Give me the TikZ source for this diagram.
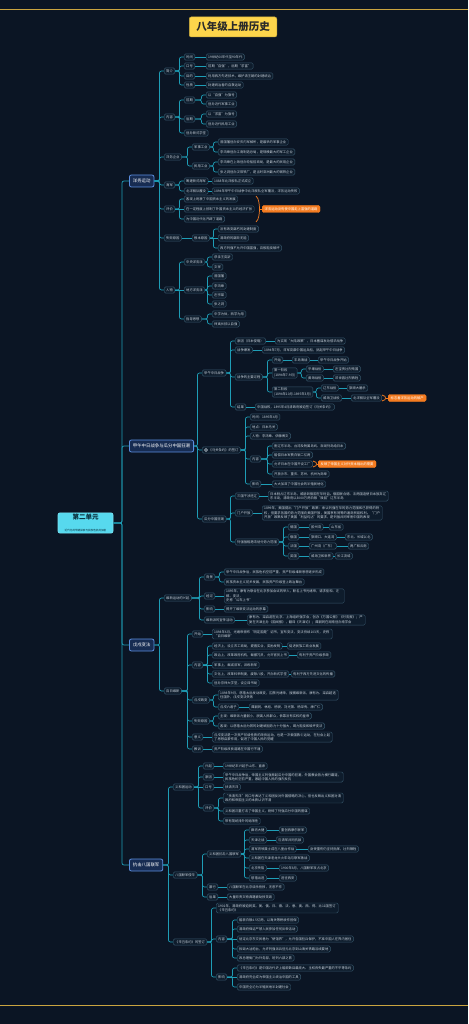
\documentclass[tikz,border=0pt]{standalone}
\usepackage{fontspec}
\setmainfont{Noto Sans CJK SC}
\XeTeXlinebreaklocale "zh"
\XeTeXlinebreakskip=0pt plus 0.5pt
\definecolor{bgc}{HTML}{0B1524}
\definecolor{connc}{HTML}{1E9DB6}
\definecolor{leafb}{HTML}{36566A}
\definecolor{leaff}{HTML}{0E1C2C}
\definecolor{leaft}{HTML}{C9D3DD}
\definecolor{lonef}{HTML}{172C52}
\definecolor{loneb}{HTML}{5C8FE0}
\definecolor{rootf}{HTML}{57D9EE}
\definecolor{roott}{HTML}{0A2E3C}
\definecolor{orc}{HTML}{F47B20}
\definecolor{goldc}{HTML}{C9A440}
\definecolor{titlef}{HTML}{FDD54B}
\definecolor{titlet}{HTML}{2A2A2A}
\newcommand\leaffont{\fontsize{3.3pt}{4.3pt}\selectfont}
\tikzset{
  leaf/.style={draw=leafb, fill=leaff, text=leaft, rounded corners=1.5pt, line width=0.45pt,
    font=\leaffont, inner xsep=2pt, inner ysep=1.3pt, minimum height=6.4pt, anchor=west},
  multi/.style={leaf, text width=#1, align=left},
  lvone/.style={draw=loneb, fill=lonef, text=white, rounded corners=2pt, line width=0.8pt,
    font=\fontsize{4.4pt}{5pt}\selectfont, inner xsep=3.5pt, inner ysep=2pt, minimum height=12pt, anchor=west},
  rootn/.style={draw=rootf!80!white, fill=rootf, text=roott, rounded corners=2pt, line width=0.6pt,
    minimum width=55pt, minimum height=20pt, align=center, inner sep=1pt},
  ttl/.style={draw=titlef!80!black, fill=titlef, text=titlet, rounded corners=2pt, line width=0.5pt,
    font=\fontsize{10.5pt}{12pt}\selectfont\bfseries, minimum height=20pt, inner xsep=7pt},
  orn/.style={draw=orc, fill=orc, text=white, rounded corners=1.5pt, font=\leaffont,
    inner xsep=2.5pt, inner ysep=1.5pt, minimum height=7pt, anchor=west},
  conn/.style={draw=connc, line width=0.7pt, rounded corners=2pt},
  obrace/.style={draw=orc, line width=0.7pt}
}
\newcommand\cnx[3][4.5]{\draw[conn] (#3.west) -- ++(-#1pt,0) |- (#2.east);}
\newcommand\lnk[2]{\draw[conn] (#1.east) -- (#2.west);}
\newcommand\orbr[5]{%
  \draw[obrace] (#1,#2) .. controls ({#1+3},{#2+2}) and ({#1+3.5},{#3-3}) .. ({#1+3.5},#3)
     .. controls ({#1+3.5},{#3+3}) and ({#1+3},{#4-2}) .. (#1,#4);
  \coordinate (#5br) at ({#1+3.5},#3);
  \draw[obrace] (#5br) -- (#5.west);}
\begin{document}
\begin{tikzpicture}[x=1pt,y=-1pt]
\useasboundingbox (0,0) rectangle (468,1024);
\fill[bgc] (0,0) rectangle (468,1024);
\draw[goldc, line width=0.8pt] (0,9) -- (468,9);
\draw[goldc, line width=0.8pt] (0,1005) -- (468,1005);
\node[ttl] (T) at (233,27) {八年级上册历史};
\node[rootn] (R) at (85.5,523) {{\fontsize{6.5pt}{8pt}\selectfont\bfseries 第二单元}\\[0.5pt]{\fontsize{2.6pt}{3pt}\selectfont 近代化的早期探索与民族危机的加剧}};
% level 1
\node[lvone] (A) at (129,181) {洋务运动};
\node[lvone] (B) at (129,446) {甲午中日战争与瓜分中国狂潮};
\node[lvone] (C) at (129,645) {戊戌变法};
\node[lvone] (D) at (129,865) {抗击八国联军};
\cnx[7]{R}{A}\cnx[7]{R}{B}\cnx[7]{R}{C}\cnx[7]{R}{D}
% ===== A
\node[leaf] (A1) at (164,71) {简介};
\node[leaf] (A2) at (164,117) {内容};
\node[leaf] (A3) at (164,157) {洋务企业};
\node[leaf] (A4) at (164,185) {海军};
\node[leaf] (A5) at (164,209) {评价};
\node[leaf] (A6) at (164,238) {失败原因};
\node[leaf] (A7) at (164,290) {人物};
\cnx{A}{A1}\cnx{A}{A2}\cnx{A}{A3}\cnx{A}{A4}\cnx{A}{A5}\cnx{A}{A6}\cnx{A}{A7}
\node[leaf] (A1a) at (184,57) {时间};
\node[leaf] (A1at) at (206,57) {19世纪60年代至90年代};
\node[leaf] (A1b) at (184,66) {口号};
\node[leaf] (A1bt) at (206,66) {前期“自强”，后期“求富”};
\node[leaf] (A1c) at (184,76) {目的};
\node[leaf] (A1ct) at (206,76) {利用西方先进技术，维护清王朝的封建统治};
\node[leaf] (A1d) at (184,85) {性质};
\node[leaf] (A1dt) at (206,85) {封建统治者的自救运动};
\cnx{A1}{A1a}\cnx{A1}{A1b}\cnx{A1}{A1c}\cnx{A1}{A1d}
\lnk{A1a}{A1at}\lnk{A1b}{A1bt}\lnk{A1c}{A1ct}\lnk{A1d}{A1dt}
\node[leaf] (A2a) at (184,100) {前期};
\node[leaf] (A2a1) at (206,95) {以“自强”为旗号};
\node[leaf] (A2a2) at (206,104) {创办近代军事工业};
\node[leaf] (A2b) at (184,119) {后期};
\node[leaf] (A2b1) at (206,114) {以“求富”为旗号};
\node[leaf] (A2b2) at (206,124) {创办近代民用工业};
\node[leaf] (A2c) at (184,133) {创办新式学堂};
\cnx{A2}{A2a}\cnx{A2}{A2b}\cnx{A2}{A2c}
\cnx{A2a}{A2a1}\cnx{A2a}{A2a2}\cnx{A2b}{A2b1}\cnx{A2b}{A2b2}
\node[leaf] (A3a) at (192,147) {军事工业};
\node[leaf] (A3a1) at (218,142) {曾国藩创办安庆内军械所，是最早的军事企业};
\node[leaf] (A3a2) at (218,152) {李鸿章创办江南制造总局，是规模最大的军工企业};
\node[leaf] (A3b) at (192,166) {民用工业};
\node[leaf] (A3b1) at (218,162) {李鸿章在上海创办轮船招商局，是最大的民用企业};
\node[leaf] (A3b2) at (218,172) {张之洞创办汉阳铁厂，是当时亚洲最大的钢铁企业};
\cnx{A3}{A3a}\cnx{A3}{A3b}
\cnx{A3a}{A3a1}\cnx{A3a}{A3a2}\cnx{A3b}{A3b1}\cnx{A3b}{A3b2}
\node[leaf] (A4a) at (184,181) {筹建新式海军};
\node[leaf] (A4a1) at (212,181) {1888年北洋舰队正式成立};
\node[leaf] (A4b) at (184,191) {北洋舰队覆没};
\node[leaf] (A4b1) at (212,191) {1894年甲午中日战争中北洋舰队全军覆没，洋务运动失败};
\cnx{A4}{A4a}\cnx{A4}{A4b}\lnk{A4a}{A4a1}\lnk{A4b}{A4b1}
\node[leaf] (A5a) at (184,199) {客观上刺激了中国资本主义的发展};
\node[leaf] (A5b) at (184,209) {在一定程度上抵制了外国资本主义的经济扩张};
\node[leaf] (A5c) at (184,219) {为中国近代化开辟了道路};
\cnx{A5}{A5a}\lnk{A5}{A5b}\cnx{A5}{A5c}
\node[orn] (A5o) at (262,209) {洋务运动没有使中国走上富强的道路};
\orbr{256}{196}{209}{222}{A5o}
\node[leaf] (A6a) at (192,238) {根本原因};
\node[leaf] (A6a1) at (218,229) {没有改变腐朽的封建制度};
\node[leaf] (A6a2) at (218,238) {清政府的腐败无能};
\node[leaf] (A6a3) at (218,248) {西方列强不允许中国富强，百般阻挠破坏};
\lnk{A6}{A6a}\cnx{A6a}{A6a1}\lnk{A6a}{A6a2}\cnx{A6a}{A6a3}
\node[leaf] (A7a) at (184,262) {中央洋务派};
\node[leaf] (A7a1) at (212,257) {恭亲王奕訢};
\node[leaf] (A7a2) at (212,267) {文祥};
\node[leaf] (A7b) at (184,290) {地方洋务派};
\node[leaf] (A7b1) at (212,276) {曾国藩};
\node[leaf] (A7b2) at (212,286) {李鸿章};
\node[leaf] (A7b3) at (212,295) {左宗棠};
\node[leaf] (A7b4) at (212,304) {张之洞};
\node[leaf] (A7c) at (184,319) {指导思想};
\node[leaf] (A7c1) at (212,314) {中学为体，西学为用};
\node[leaf] (A7c2) at (212,324) {师夷长技以自强};
\cnx{A7}{A7a}\lnk{A7}{A7b}\cnx{A7}{A7c}
\cnx{A7a}{A7a1}\cnx{A7a}{A7a2}
\cnx{A7b}{A7b1}\cnx{A7b}{A7b2}\cnx{A7b}{A7b3}\cnx{A7b}{A7b4}
\cnx{A7c}{A7c1}\cnx{A7c}{A7c2}
% ===== B
\node[leaf] (B1) at (202,373) {甲午中日战争};
\node[leaf] (B2) at (202,450) {\hspace*{4.5pt}《马关条约》的签订};
\fill[leaft] ([xshift=4pt]B2.west) circle (1.8pt);
\fill[leaff] ([xshift=4pt]B2.west) circle (0.9pt);
\node[leaf] (B3) at (202,519) {瓜分中国狂潮};
\cnx{B}{B1}\cnx{B}{B2}\cnx{B}{B3}
\node[leaf] (B1a) at (235,341) {原因（日本侵略）};
\node[leaf] (B1a1) at (275,341) {为实现“大陆政策”，日本蓄谋发动侵华战争};
\node[leaf] (B1b) at (235,350) {战争爆发};
\node[leaf] (B1b1) at (262,350) {1894年7月，日军突袭中国运兵船，挑起甲午中日战争};
\node[leaf] (B1c) at (235,377) {战争的主要过程};
\node[leaf] (B1d) at (235,407) {结果};
\node[leaf] (B1d1) at (255,407) {中国战败，1895年4月清政府被迫签订《马关条约》};
\cnx{B1}{B1a}\cnx{B1}{B1b}\cnx{B1}{B1c}\cnx{B1}{B1d}
\lnk{B1a}{B1a1}\lnk{B1b}{B1b1}\lnk{B1d}{B1d1}
\node[leaf] (B1c1) at (272,360) {开始};
\node[leaf] (B1c1a) at (292,360) {丰岛海战};
\node[leaf] (B1c1b) at (318,360) {甲午中日战争开始};
\node[leaf, align=left] (B1c2) at (272,373) {第一阶段\\(1894年7-9月)};
\node[leaf] (B1c2a) at (306,369) {平壤战役};
\node[leaf] (B1c2a1) at (333,369) {左宝贵壮烈殉国};
\node[leaf] (B1c2b) at (306,378) {黄海战役};
\node[leaf] (B1c2b1) at (333,378) {邓世昌壮烈牺牲};
\node[leaf, align=left] (B1c3) at (272,392) {第二阶段\\(1894年10月-1895年3月)};
\node[leaf] (B1c3a) at (321,388) {辽东战役};
\node[leaf] (B1c3a1) at (347,388) {旅顺大屠杀};
\node[leaf] (B1c3b) at (321,398) {威海卫战役};
\node[leaf] (B1c3b1) at (351,398) {北洋舰队全军覆没};
\node[orn] (B1o) at (388,398) {标志着洋务运动的破产};
\orbr{382}{395}{398}{401}{B1o}
\cnx{B1c}{B1c1}\cnx{B1c}{B1c2}\cnx{B1c}{B1c3}
\lnk{B1c1}{B1c1a}\lnk{B1c1a}{B1c1b}
\cnx{B1c2}{B1c2a}\cnx{B1c2}{B1c2b}\lnk{B1c2a}{B1c2a1}\lnk{B1c2b}{B1c2b1}
\cnx{B1c3}{B1c3a}\cnx{B1c3}{B1c3b}\lnk{B1c3a}{B1c3a1}\lnk{B1c3b}{B1c3b1}
\node[leaf] (B2a) at (250,417) {时间：1895年4月};
\node[leaf] (B2b) at (250,427) {地点：日本马关};
\node[leaf] (B2c) at (250,436) {人物：李鸿章、伊藤博文};
\node[leaf] (B2d) at (250,459) {内容};
\node[leaf] (B2e) at (250,484) {影响};
\node[leaf] (B2e1) at (272,484) {大大加深了中国社会的半殖民地化};
\cnx{B2}{B2a}\cnx{B2}{B2b}\cnx{B2}{B2c}\cnx{B2}{B2d}\cnx{B2}{B2e}\lnk{B2e}{B2e1}
\node[leaf] (B2d1) at (272,446) {割辽东半岛、台湾及附属岛屿、澎湖列岛给日本};
\node[leaf] (B2d2) at (272,455) {赔偿日本军费白银二亿两};
\node[leaf] (B2d3) at (272,464) {允许日本在中国开设工厂};
\node[leaf] (B2d4) at (272,474) {开放沙市、重庆、苏州、杭州为商埠};
\node[orn] (B2o) at (318,464) {反映了帝国主义对外资本输出的需要};
\orbr{313}{461}{464}{467}{B2o}
\cnx{B2d}{B2d1}\cnx{B2d}{B2d2}\cnx{B2d}{B2d3}\cnx{B2d}{B2d4}
\node[leaf] (B3a) at (235,496) {三国干涉还辽};
\node[multi=116pt] (B3a1) at (268,496) {日本割占辽东半岛，威胁到俄国在华利益。俄国联合德、法两国迫使日本放弃辽东半岛，清政府以3000万两白银“赎回”辽东半岛};
\node[leaf] (B3b) at (235,513) {门户开放};
\node[multi=116pt] (B3b1) at (262,513) {1899年，美国提出“门户开放”政策：承认列强在华的势力范围和已获得的特权，但要求各国的势力范围向美国开放，美国享有同等的通商贸易权利。“门户开放”政策反映了美国“利益均沾”的要求，是列强共同宰割中国的表现};
\node[leaf] (B3c) at (235,542) {列强强租港湾划分势力范围};
\cnx{B3}{B3a}\cnx{B3}{B3b}\cnx{B3}{B3c}\lnk{B3a}{B3a1}\lnk{B3b}{B3b1}
\node[leaf] (B3c1) at (288,527) {德国};
\node[leaf] (B3c1a) at (309,527) {胶州湾};
\node[leaf] (B3c1b) at (329,527) {山东省};
\node[leaf] (B3c2) at (288,537) {俄国};
\node[leaf] (B3c2a) at (309,537) {旅顺口、大连湾};
\node[leaf] (B3c2b) at (345,537) {东北、长城以北};
\node[leaf] (B3c3) at (288,546) {法国};
\node[leaf] (B3c3a) at (309,546) {广州湾（广东）};
\node[leaf] (B3c3b) at (348,546) {两广和云南};
\node[leaf] (B3c4) at (288,556) {英国};
\node[leaf] (B3c4a) at (309,556) {威海卫和新界};
\node[leaf] (B3c4b) at (335,556) {长江流域};
\cnx{B3c}{B3c1}\cnx{B3c}{B3c2}\cnx{B3c}{B3c3}\cnx{B3c}{B3c4}
\lnk{B3c1}{B3c1a}\lnk{B3c1a}{B3c1b}\lnk{B3c2}{B3c2a}\lnk{B3c2a}{B3c2b}
\lnk{B3c3}{B3c3a}\lnk{B3c3a}{B3c3b}\lnk{B3c4}{B3c4a}\lnk{B3c4a}{B3c4b}
% ===== C
\node[leaf] (C1) at (164,598) {维新运动的兴起};
\node[leaf] (C2) at (164,691) {百日维新};
\cnx{C}{C1}\cnx{C}{C2}
\node[leaf] (C1a) at (204,577) {背景};
\node[leaf] (C1a1) at (224,572) {甲午中日战争后，民族危机空前严重，资产阶级维新思想逐步形成};
\node[leaf] (C1a2) at (224,582) {民族资本主义初步发展，民族资产阶级登上政治舞台};
\node[leaf] (C1b) at (204,596) {经过};
\node[multi=116pt] (C1b1) at (224,596) {1895年，康有为联合在北京参加会试的举人，联名上书光绪帝，请求拒和、迁\\都、变法，\\史称“公车上书”};
\node[leaf] (C1c) at (204,609) {影响};
\node[leaf] (C1c1) at (224,609) {揭开了维新变法运动的序幕};
\node[leaf] (C1d) at (204,620) {维新派的宣传活动};
\node[multi=114pt] (C1d1) at (247,620) {康有为、梁启超在北京、上海组织强学会，创办《万国公报》《时务报》；严复在天津主办《国闻报》，翻译《天演论》；谭嗣同在湖南创办南学会};
\cnx{C1}{C1a}\cnx{C1}{C1b}\cnx{C1}{C1c}\cnx{C1}{C1d}
\cnx{C1a}{C1a1}\cnx{C1a}{C1a2}\lnk{C1b}{C1b1}\lnk{C1c}{C1c1}\lnk{C1d}{C1d1}
\node[leaf] (C2a) at (192,634) {开始};
\node[multi=116pt] (C2a1) at (212,634) {1898年6月，光绪帝颁布“明定国是”诏书，宣布变法，变法持续103天，史称“百日维新”};
\node[leaf] (C2b) at (192,665) {内容};
\node[leaf] (C2c) at (192,700) {戊戌政变};
\node[leaf] (C2d) at (192,721) {失败原因};
\node[leaf] (C2e) at (192,737) {意义};
\node[leaf] (C2f) at (192,749) {教训};
\cnx{C2}{C2a}\cnx{C2}{C2b}\cnx{C2}{C2c}\cnx{C2}{C2d}\cnx{C2}{C2e}\cnx{C2}{C2f}
\lnk{C2a}{C2a1}
\node[leaf] (C2b1) at (212,646) {经济上，设立农工商局，提倡实业，奖励发明};
\node[leaf] (C2b1a) at (287,646) {促进民族工商业发展};
\node[leaf] (C2b2) at (212,655) {政治上，改革政府机构，裁撤冗员，允许官员上书};
\node[leaf] (C2b2a) at (297,655) {有利于资产阶级参政};
\node[leaf] (C2b3) at (212,665) {军事上，裁减旧军，训练新军};
\node[leaf] (C2b4) at (212,674) {文化上，改革科举制度，废除八股，开办新式学堂};
\node[leaf] (C2b4a) at (291,674) {有利于西方先进文化的传播};
\node[leaf] (C2b5) at (212,683) {创办京师大学堂，设立译书局};
\cnx{C2b}{C2b1}\cnx{C2b}{C2b2}\lnk{C2b}{C2b3}\cnx{C2b}{C2b4}\cnx{C2b}{C2b5}
\lnk{C2b1}{C2b1a}\lnk{C2b2}{C2b2a}\lnk{C2b4}{C2b4a}
\node[multi=116pt] (C2c1) at (218,695) {1898年9月，慈禧太后发动政变，囚禁光绪帝，搜捕维新派，康有为、梁启超逃往国外，戊戌变法失败};
\node[leaf] (C2c2) at (218,707) {戊戌六君子};
\node[leaf] (C2c2a) at (249,707) {谭嗣同、林旭、杨锐、刘光第、杨深秀、康广仁};
\cnx{C2c}{C2c1}\cnx{C2c}{C2c2}\lnk{C2c2}{C2c2a}
\node[leaf] (C2d1) at (218,716) {主观：维新派力量弱小，脱离人民群众，依靠没有实权的皇帝};
\node[leaf] (C2d2) at (218,726) {客观：以慈禧太后为首的封建顽固势力十分强大，竭力阻挠和破坏变法};
\cnx{C2d}{C2d1}\cnx{C2d}{C2d2}
\node[multi=116pt] (C2e1) at (212,737) {戊戌变法是一次资产阶级性质的改良运动，也是一次爱国救亡运动，在社会上起了思想启蒙作用，促进了中国人民的觉醒};
\node[leaf] (C2f1) at (212,749) {资产阶级改良道路在中国行不通};
\lnk{C2e}{C2e1}\lnk{C2f}{C2f1}
% ===== D
\node[leaf] (D1) at (173,787) {义和团运动};
\node[leaf] (D2) at (173,875) {八国联军侵华};
\node[leaf] (D3) at (173,942) {《辛丑条约》的签订};
\cnx{D}{D1}\cnx{D}{D2}\cnx{D}{D3}
\node[leaf] (D1a) at (203,766) {兴起};
\node[leaf] (D1a1) at (223,766) {19世纪末兴起于山东、直隶};
\node[leaf] (D1b) at (203,777) {原因};
\node[multi=116pt] (D1b1) at (223,777) {甲午中日战争后，帝国主义列强掀起瓜分中国的狂潮，外国教会势力横行霸道，民族危机空前严重，激起中国人民的强烈反抗};
\node[leaf] (D1c) at (203,787) {口号};
\node[leaf] (D1c1) at (223,787) {扶清灭洋};
\node[leaf] (D1d) at (203,808) {评价};
\cnx{D1}{D1a}\cnx{D1}{D1b}\lnk{D1}{D1c}\cnx{D1}{D1d}
\lnk{D1a}{D1a1}\lnk{D1b}{D1b1}\lnk{D1c}{D1c1}
\node[multi=116pt] (D1d1) at (223,798) {“扶清灭洋”的口号表达了义和团反对外国侵略的决心，但也反映出义和团对清政府和帝国主义的本质认识不清};
\node[leaf] (D1d2) at (223,811) {义和团沉重打击了帝国主义，粉碎了列强瓜分中国的图谋};
\node[leaf] (D1d3) at (223,821) {带有笼统排外的局限性};
\cnx{D1d}{D1d1}\cnx{D1d}{D1d2}\cnx{D1d}{D1d3}
\node[leaf] (D2a) at (207,854) {义和团抗击八国联军};
\node[leaf] (D2b) at (207,887) {暴行};
\node[leaf] (D2b1) at (227,887) {八国联军在北京烧杀抢掠，无恶不作};
\node[leaf] (D2c) at (207,897) {后果};
\node[leaf] (D2c1) at (227,897) {大量珍贵文物典籍被劫掠焚毁};
\cnx{D2}{D2a}\cnx{D2}{D2b}\cnx{D2}{D2c}\lnk{D2b}{D2b1}\lnk{D2c}{D2c1}
\node[leaf] (D2a1) at (249,830) {廊坊大捷};
\node[leaf] (D2a1a) at (279,830) {重创西摩尔联军};
\node[leaf] (D2a2) at (249,840) {天津之战};
\node[leaf] (D2a2a) at (276,840) {与清军共同抗敌};
\node[leaf] (D2a3) at (249,849) {清军将领聂士成在八里台作战};
\node[leaf] (D2a3a) at (308,849) {身受重伤仍坚持指挥，壮烈牺牲};
\node[leaf] (D2a4) at (249,858) {义和团在天津老龙头火车站与联军激战};
\node[leaf] (D2a5) at (249,868) {北京失陷};
\node[leaf] (D2a5a) at (279,868) {1900年8月，八国联军攻占北京};
\node[leaf] (D2a6) at (249,878) {慈禧出逃};
\node[leaf] (D2a6a) at (279,878) {逃往西安};
\cnx{D2a}{D2a1}\cnx{D2a}{D2a2}\cnx{D2a}{D2a3}\cnx{D2a}{D2a4}\cnx{D2a}{D2a5}\cnx{D2a}{D2a6}
\lnk{D2a1}{D2a1a}\lnk{D2a2}{D2a2a}\lnk{D2a3}{D2a3a}\lnk{D2a5}{D2a5a}\lnk{D2a6}{D2a6a}
\node[multi=118pt] (D3a) at (216,908) {1901年，清政府被迫同英、美、俄、日、德、法、意、奥、西、荷、比11国签订《辛丑条约》};
\node[leaf] (D3b) at (216,939) {内容};
\node[leaf] (D3c) at (216,977) {影响};
\cnx{D3}{D3a}\cnx{D3}{D3b}\cnx{D3}{D3c}
\node[leaf] (D3b1) at (237,920) {赔款白银4.5亿两，以海关等税收作担保};
\node[leaf] (D3b2) at (237,929) {清政府保证严禁人民参加任何反帝活动};
\node[leaf] (D3b3) at (237,939) {划定北京东交民巷为“使馆界”，允许各国驻兵保护，不准中国人在界内居住};
\node[leaf] (D3b4) at (237,949) {拆毁大沽炮台，允许列强派兵驻扎北京到山海关铁路沿线要地};
\node[leaf] (D3b5) at (237,958) {改总理衙门为外务部，班列六部之首};
\cnx{D3b}{D3b1}\cnx{D3b}{D3b2}\lnk{D3b}{D3b3}\cnx{D3b}{D3b4}\cnx{D3b}{D3b5}
\node[leaf] (D3c1) at (237,968) {《辛丑条约》是中国近代史上赔款数目最庞大、主权丧失最严重的不平等条约};
\node[leaf] (D3c2) at (237,977) {清政府完全成为帝国主义统治中国的工具};
\node[leaf] (D3c3) at (237,987) {中国完全沦为半殖民地半封建社会};
\cnx{D3c}{D3c1}\lnk{D3c}{D3c2}\cnx{D3c}{D3c3}
\end{tikzpicture}
\end{document}
